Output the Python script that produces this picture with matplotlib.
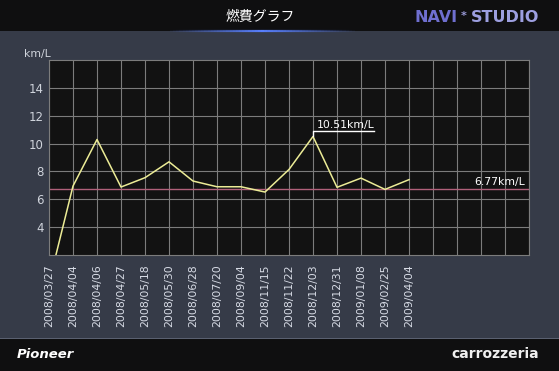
import matplotlib
matplotlib.use("Agg")
import matplotlib.pyplot as plt
from matplotlib.patches import Rectangle
from matplotlib.collections import LineCollection
import numpy as np

plt.rcParams.update({"font.family": ["DejaVu Sans"], "figure.dpi": 100})

# data
dates = ["2008/03/27", "2008/04/04", "2008/04/06", "2008/04/27", "2008/05/18",
         "2008/05/30", "2008/06/28", "2008/07/20", "2008/09/04", "2008/11/15",
         "2008/11/22", "2008/12/03", "2008/12/31", "2009/01/08", "2009/02/25",
         "2009/04/04"]
kmpl = [0.0, 6.95, 10.29, 6.88, 7.55, 8.69, 7.31, 6.90, 6.90, 6.52,
        8.14, 10.51, 6.86, 7.52, 6.71, 7.41]
avg_kmpl = 6.77
y_ticks = [4, 6, 8, 10, 12, 14]
n_slots = 20

W, H = 559, 371
fig = plt.figure(figsize=(W / 100, H / 100), dpi=100)
fig.patch.set_facecolor("#363b48")

# header / footer bars
fig.patches.append(Rectangle((0, 1 - 31 / H), 1, 31 / H, transform=fig.transFigure,
                             facecolor="#0f0f10", edgecolor="none", zorder=0))
fig.patches.append(Rectangle((0, 0), 1, 32 / H, transform=fig.transFigure,
                             facecolor="#0f0f10", edgecolor="none", zorder=0))
fig.patches.append(Rectangle((0, 32 / H), 1, 1 / H, transform=fig.transFigure,
                             facecolor="#5a6070", edgecolor="none", zorder=0))

# blue glow under title
xs = np.linspace(170, 355, 60)
segs = [[((xs[i]) / W, 1 - 30.5 / H), ((xs[i + 1]) / W, 1 - 30.5 / H)] for i in range(len(xs) - 1)]
mid = (xs[:-1] + xs[1:]) / 2
alpha = np.clip(1 - np.abs(mid - 262) / 95, 0, 1)
cols = [(0.35, 0.5, 1.0, a) for a in alpha]
fig.add_artist(LineCollection(segs, colors=cols, linewidths=1.6, transform=fig.transFigure))

fig.text(260 / W, 1 - 17 / H, "燃費グラフ", ha="center", va="center", fontsize=10,
         color="white", family=["Noto Sans CJK JP", "DejaVu Sans"])
fig.text(414 / W, 1 - 17 / H, "NAVI", ha="left", va="center", fontsize=11.5,
         color="#6f6fd0", weight="bold")
fig.text(464 / W, 1 - 16 / H, "*", ha="center", va="center", fontsize=8,
         color="#9a9ad8", weight="bold")
fig.text(471 / W, 1 - 17 / H, "STUDIO", ha="left", va="center", fontsize=11.5,
         color="#9d9fe0", weight="bold")
fig.text(17 / W, 17 / H, "Pioneer", ha="left", va="center", fontsize=9.5,
         color="white", weight="bold", style="italic")
fig.text(539 / W, 17 / H, "carrozzeria", ha="right", va="center", fontsize=10,
         color="#f0f0f0", weight="bold")

# plot area
ax = fig.add_axes([49 / W, (H - 255) / H, 480 / W, 195 / H])
ax.set_facecolor("#121212")
ax.set_xlim(0, n_slots)
ax.set_ylim(2, 16)
for s in ax.spines.values():
    s.set_color("#7c7c7c")
    s.set_linewidth(0.8)

ax.set_xticks(range(n_slots + 1))
ax.set_xticklabels(dates + [""] * (n_slots + 1 - len(dates)), rotation=90,
                   fontsize=7.8, color="#d8dce6")
ax.set_yticks(y_ticks)
ax.set_yticklabels([str(v) for v in y_ticks], fontsize=8.5, color="#d0d4dc")
ax.tick_params(length=0)
ax.tick_params(axis="x", pad=7)
ax.tick_params(axis="y", pad=4)
ax.grid(True, color="#7c7c7c", linewidth=0.8)
ax.set_axisbelow(True)

x = np.arange(len(kmpl))
ax.axhline(avg_kmpl, color="#b0607a", linewidth=1.0, zorder=2)
ax.plot(x, kmpl, color="#ecec96", linewidth=1.1, zorder=3)

# max annotation bracket
imax = int(np.argmax(kmpl))
top = kmpl[imax] + 0.37
ax.plot([imax, imax, imax + 2.55], [kmpl[imax], top, top], color="white",
        linewidth=1.0, zorder=4)
ax.text(imax + 0.15, top + 0.08, f"{kmpl[imax]:.2f}km/L", ha="left", va="bottom",
        fontsize=7.8, color="white", zorder=5)

ax.text(19.85, avg_kmpl + 0.12, f"{avg_kmpl:.2f}km/L", ha="right", va="bottom",
        fontsize=7.8, color="white", zorder=5)

fig.text(24 / W, 1 - 54 / H, "km/L", ha="left", va="center", fontsize=7.8,
         color="#d0d4dc")

fig.savefig("out.png", dpi=100, facecolor=fig.get_facecolor())
